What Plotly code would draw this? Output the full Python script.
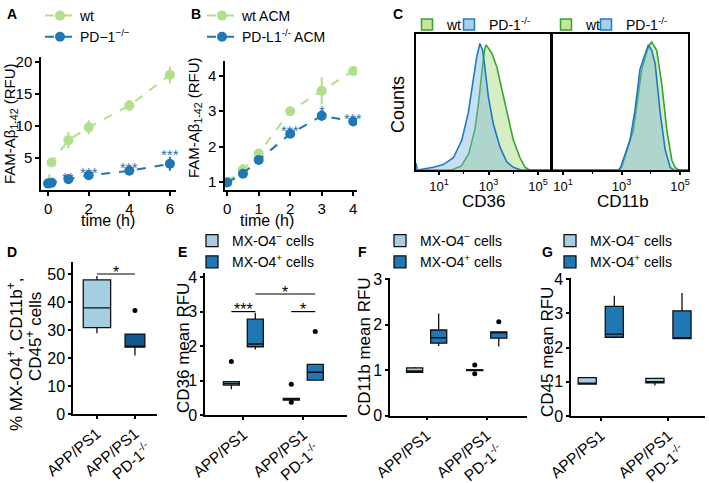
import plotly.graph_objects as go

W, H = 709, 483
FONT = "Liberation Sans, Arial, Helvetica, sans-serif"


def fx(p):
    return p / W


def fy(p):
    return 1 - p / H


GREEN_PT = "#b2df8a"
BLUE_PT = "#1f78b4"
LIGHT_BOX = "#a6cee3"
DARK_BOX = "#1f78b4"
D_DARK = "#14578f"
HIST_GREEN_LINE = "#36a332"
HIST_BLUE_LINE = "#1f78c8"
HIST_GREEN_FILL = "rgba(160,215,110,0.42)"
HIST_BLUE_FILL = "rgba(120,180,220,0.42)"

# ---------------- Panel A ----------------
a_time = [0, 0.17, 1, 2, 4, 6]
a_wt = [1.1, 4.3, 7.8, 9.8, 13.2, 18.0]
a_wt_err = [0.4, 0.5, 1.3, 1.1, 0.9, 1.3]
a_ko = [1.0, 1.15, 1.7, 2.3, 3.0, 4.1]
a_ko_err = [0.15, 0.15, 0.2, 0.2, 0.2, 1.1]
a_sig_time = [1, 2, 4, 6]
a_sig_val = [2.65, 3.4, 4.2, 6.25]
a_sig_txt = ["**", "***", "***", "***"]

# ---------------- Panel B ----------------
b_time = [0, 0.5, 1, 2, 3, 4]
b_wt = [1.0, 1.35, 1.8, 3.0, 3.58, 4.14]
b_wt_err = [0.03, 0.15, 0.05, 0.05, 0.38, 0.12]
b_ko = [0.98, 1.23, 1.62, 2.36, 2.87, 2.71]
b_ko_err = [0.03, 0.05, 0.05, 0.05, 0.15, 0.08]
b_sig_time = [2, 3, 4]
b_sig_val = [2.57, 3.13, 2.9]
b_sig_txt = ["***", "*", "***"]

# ---------------- Panel C (histograms, log10 of intensity) ----------------
c_cd36_wt_log = [0.07, 1.5, 1.9, 2.2, 2.45, 2.6, 2.73, 2.83, 2.9, 3.03, 3.13, 3.33,
                 3.53, 3.73, 4.0, 4.27, 4.47, 4.65, 5.48]
c_cd36_wt_cnt = [0, 0, 0.03, 0.12, 0.30, 0.50, 0.72, 0.88, 0.92, 0.88, 0.86, 0.76,
                 0.60, 0.42, 0.22, 0.09, 0.02, 0, 0]
c_cd36_ko_log = [0.07, 0.1, 0.13, 0.77, 1.17, 1.58, 1.92, 2.18, 2.38, 2.52, 2.65, 2.76,
                 2.86, 2.99, 3.19, 3.46, 3.73, 4.0, 4.3, 5.48]
c_cd36_ko_cnt = [0.05, 0.01, 0, 0.02, 0.04, 0.09, 0.22, 0.42, 0.66, 0.83, 0.93, 0.88,
                 0.74, 0.54, 0.34, 0.17, 0.06, 0.02, 0, 0]
c_cd11b_wt_log = [0.66, 2.9, 3.0, 3.40, 3.69, 3.92, 4.03, 4.20, 4.37, 4.55, 4.72, 4.83,
                  4.95, 5.27]
c_cd11b_wt_cnt = [0, 0, 0.02, 0.29, 0.74, 0.91, 0.94, 0.88, 0.64, 0.29, 0.07, 0.02,
                  0, 0]
c_cd11b_ko_log = [0.66, 2.9, 2.97, 3.29, 3.46, 3.63, 3.80, 3.92, 4.03, 4.15, 4.32, 4.49,
                  4.66, 4.78, 5.27]
c_cd11b_ko_cnt = [0, 0, 0.02, 0.22, 0.44, 0.74, 0.85, 0.92, 0.88, 0.78, 0.42, 0.15,
                  0.02, 0, 0]
c_tickvals = [10, 1000, 100000]
c_ticktext = ["10<sup>1</sup>", "10<sup>3</sup>", "10<sup>5</sup>"]

# ---------------- Panels D-G (box statistics) ----------------
cats = ["APP/PS1", "APP/PS1<br>PD-1<sup>-/-</sup>"]

d_q1 = [30.9, 23.9]
d_med = [38.0, 24.0]
d_q3 = [48.0, 28.6]
d_low = [28.9, 20.9]
d_up = [49.4, 28.6]
d_out = [[None], [37.0]]

e_neg_q1 = [0.87, 0.43]
e_neg_med = [0.92, 0.45]
e_neg_q3 = [0.97, 0.48]
e_neg_low = [0.75, 0.43]
e_neg_up = [0.97, 0.48]
e_neg_out = [[1.55], [0.89, 0.37]]
e_pos_q1 = [1.98, 1.01]
e_pos_med = [2.06, 1.24]
e_pos_q3 = [2.78, 1.47]
e_pos_low = [1.9, 1.01]
e_pos_up = [2.97, 1.47]
e_pos_out = [[None], [2.42]]

f_neg_q1 = [0.95, 0.99]
f_neg_med = [0.98, 1.0]
f_neg_q3 = [1.05, 1.01]
f_neg_low = [0.95, 0.99]
f_neg_up = [1.07, 1.01]
f_neg_out = [[None], [1.11, 0.92]]
f_pos_q1 = [1.59, 1.70]
f_pos_med = [1.71, 1.82]
f_pos_q3 = [1.88, 1.84]
f_pos_low = [1.53, 1.52]
f_pos_up = [2.24, 1.84]
f_pos_out = [[None], [2.06]]

g_neg_q1 = [0.93, 0.97]
g_neg_med = [0.95, 1.0]
g_neg_q3 = [1.12, 1.1]
g_neg_low = [0.93, 0.89]
g_neg_up = [1.12, 1.1]
g_neg_out = [[None], [None]]
g_pos_q1 = [2.30, 2.26]
g_pos_med = [2.39, 2.28]
g_pos_q3 = [3.20, 3.07]
g_pos_low = [2.27, 2.26]
g_pos_up = [3.51, 3.59]
g_pos_out = [[None], [None]]

# significance brackets: (x0, x1, y, label)
d_sig = [(0, 1, 50.1, "*")]
e_sig = [(-0.2, 0.2, 3.0, "***"), (0.8, 1.2, 3.0, "*"), (0.2, 1.2, 3.51, "*")]

fig = go.Figure()

# ---- A
fig.add_trace(go.Scatter(x=a_time, y=a_wt, mode="lines+markers", name="wt",
                         line=dict(color=GREEN_PT, dash="dash", width=2),
                         marker=dict(color=GREEN_PT, size=10),
                         error_y=dict(type="data", array=a_wt_err, color=GREEN_PT, thickness=2, width=0),
                         xaxis="x", yaxis="y", legend="legend"))
fig.add_trace(go.Scatter(x=a_time, y=a_ko, mode="lines+markers", name="PD\u22121<sup>\u2212/\u2212</sup>",
                         line=dict(color=BLUE_PT, dash="dash", width=2),
                         marker=dict(color=BLUE_PT, size=10),
                         error_y=dict(type="data", array=a_ko_err, color=BLUE_PT, thickness=2, width=0),
                         xaxis="x", yaxis="y", legend="legend"))
# ---- B
fig.add_trace(go.Scatter(x=b_time, y=b_wt, mode="lines+markers", name="wt ACM",
                         line=dict(color=GREEN_PT, dash="dash", width=2),
                         marker=dict(color=GREEN_PT, size=10),
                         error_y=dict(type="data", array=b_wt_err, color=GREEN_PT, thickness=2, width=0),
                         xaxis="x2", yaxis="y2", legend="legend2"))
fig.add_trace(go.Scatter(x=b_time, y=b_ko, mode="lines+markers", name="PD-L1<sup>-/-</sup> ACM",
                         line=dict(color=BLUE_PT, dash="dash", width=2),
                         marker=dict(color=BLUE_PT, size=10),
                         error_y=dict(type="data", array=b_ko_err, color=BLUE_PT, thickness=2, width=0),
                         xaxis="x2", yaxis="y2", legend="legend2"))

# ---- C histograms
for xa, ya, wlog, wcnt, klog, kcnt, lgw, lgk in [
    ("x3", "y3", c_cd36_wt_log, c_cd36_wt_cnt, c_cd36_ko_log, c_cd36_ko_cnt, "legend3", "legend8"),
    ("x4", "y4", c_cd11b_wt_log, c_cd11b_wt_cnt, c_cd11b_ko_log, c_cd11b_ko_cnt, "legend4", "legend9"),
]:
    fig.add_trace(go.Scatter(x=[10 ** v for v in wlog], y=wcnt, mode="lines", fill="tozeroy",
                             fillcolor=HIST_GREEN_FILL, line=dict(color=HIST_GREEN_LINE, width=1.6),
                             showlegend=False, xaxis=xa, yaxis=ya))
    fig.add_trace(go.Scatter(x=[10 ** v for v in klog], y=kcnt, mode="lines", fill="tozeroy",
                             fillcolor=HIST_BLUE_FILL, line=dict(color=HIST_BLUE_LINE, width=1.6),
                             showlegend=False, xaxis=xa, yaxis=ya))
    fig.add_trace(go.Scatter(x=[None], y=[None], mode="markers", name="wt",
                             marker=dict(symbol="square", size=11, color="#c4e59c",
                                         line=dict(color=HIST_GREEN_LINE, width=1.5)),
                             xaxis=xa, yaxis=ya, legend=lgw))
    fig.add_trace(go.Scatter(x=[None], y=[None], mode="markers", name="PD-1<sup>-/-</sup>",
                             marker=dict(symbol="square", size=11, color="#a9d0ea",
                                         line=dict(color=HIST_BLUE_LINE, width=1.5)),
                             xaxis=xa, yaxis=ya, legend=lgk))

BOX_LINE = dict(color="#111111", width=1.3)
PT = dict(color="black", size=5)


def add_box(name, xcats, q1, med, q3, lo, up, pts, fill, xa, ya, lg, og, showlegend, width=None):
    kw = {}
    if width is not None:
        kw["width"] = width
    else:
        kw["offsetgroup"] = og
        kw["alignmentgroup"] = xa
    fig.add_trace(go.Box(x=xcats, q1=q1, median=med, q3=q3, lowerfence=lo, upperfence=up,
                         y=pts, boxpoints="all", jitter=0, pointpos=0,
                         fillcolor=fill, line=BOX_LINE, marker=PT, whiskerwidth=0,
                         name=name, showlegend=showlegend, legend=lg,
                         xaxis=xa, yaxis=ya, **kw))


NEG = "MX-O4<sup>\u2212</sup> cells"
POS = "MX-O4<sup>+</sup> cells"

# ---- D (one box per category)
add_box("APP/PS1", [cats[0]], [d_q1[0]], [d_med[0]], [d_q3[0]], [d_low[0]], [d_up[0]], [d_out[0]],
        LIGHT_BOX, "x5", "y5", "legend", "d", False, width=0.72)
add_box("APP/PS1 PD-1", [cats[1]], [d_q1[1]], [d_med[1]], [d_q3[1]], [d_low[1]], [d_up[1]], [d_out[1]],
        D_DARK, "x5", "y5", "legend", "d", False, width=0.52)

# ---- E
add_box(NEG, cats, e_neg_q1, e_neg_med, e_neg_q3, e_neg_low, e_neg_up, e_neg_out, LIGHT_BOX, "x6", "y6", "legend5", "neg", True)
add_box(POS, cats, e_pos_q1, e_pos_med, e_pos_q3, e_pos_low, e_pos_up, e_pos_out, DARK_BOX, "x6", "y6", "legend5", "pos", True)
# ---- F
add_box(NEG, cats, f_neg_q1, f_neg_med, f_neg_q3, f_neg_low, f_neg_up, f_neg_out, LIGHT_BOX, "x7", "y7", "legend6", "neg", True)
add_box(POS, cats, f_pos_q1, f_pos_med, f_pos_q3, f_pos_low, f_pos_up, f_pos_out, DARK_BOX, "x7", "y7", "legend6", "pos", True)
# ---- G
add_box(NEG, cats, g_neg_q1, g_neg_med, g_neg_q3, g_neg_low, g_neg_up, g_neg_out, LIGHT_BOX, "x8", "y8", "legend7", "neg", True)
add_box(POS, cats, g_pos_q1, g_pos_med, g_pos_q3, g_pos_low, g_pos_up, g_pos_out, DARK_BOX, "x8", "y8", "legend7", "pos", True)

# ---------------- axes ----------------
base = dict(showline=True, linecolor="black", linewidth=1.5, ticks="outside", ticklen=4,
            tickwidth=1.5, tickcolor="black", showgrid=False, zeroline=False,
            tickfont=dict(size=15, color="black", family=FONT))
big = dict(base, ticklen=3, tickfont=dict(size=16, color="black", family=FONT))
catx = dict(big, tickfont=dict(size=15.5, color="black", family=FONT))
cminor = dict(ticks="outside", ticklen=2, tickwidth=1, tickcolor="black", dtick=1, showgrid=False)

layout_axes = dict(
    xaxis=dict(base, domain=[fx(41), fx(176)], anchor="y", range=[-0.35, 6.3], tickvals=[0, 2, 4, 6]),
    yaxis=dict(base, domain=[fy(190), fy(57)], anchor="x", range=[0, 20.8], tickvals=[5, 10, 15, 20]),
    xaxis2=dict(base, domain=[fx(225), fx(357)], anchor="y2", range=[-0.07, 4.12], tickvals=[0, 1, 2, 3, 4]),
    yaxis2=dict(base, domain=[fy(190), fy(61)], anchor="x2", range=[0.77, 4.42], tickvals=[1, 2, 3, 4]),
    xaxis3=dict(base, domain=[fx(416), fx(550)], anchor="y3", type="log", range=[0.07, 5.48],
                tickvals=c_tickvals, ticktext=c_ticktext, mirror=True, ticklen=3, linewidth=1.8,
                minor=cminor, tickfont=dict(size=13, color="black", family=FONT)),
    yaxis3=dict(base, domain=[fy(170), fy(34)], anchor="x3", range=[0, 1.0], mirror=True, linewidth=1.8,
                ticks="", showticklabels=False),
    xaxis4=dict(base, domain=[fx(553), fx(688)], anchor="y4", type="log", range=[0.66, 5.27],
                tickvals=c_tickvals, ticktext=c_ticktext, mirror=True, ticklen=3, linewidth=1.8,
                minor=cminor, tickfont=dict(size=13, color="black", family=FONT)),
    yaxis4=dict(base, domain=[fy(170), fy(34)], anchor="x4", range=[0, 1.0], mirror=True, linewidth=1.8,
                ticks="", showticklabels=False),
    xaxis5=dict(catx, domain=[fx(73), fx(157)], anchor="y5", type="category", range=[-0.63, 1.58], tickangle=-40),
    yaxis5=dict(big, domain=[fy(414), fy(262)], anchor="x5", range=[0, 54.4], tickvals=[0, 10, 20, 30, 40, 50]),
    xaxis6=dict(catx, domain=[fx(205), fx(347)], anchor="y6", type="category", range=[-0.64, 1.73], tickangle=-40),
    yaxis6=dict(big, domain=[fy(415), fy(273)], anchor="x6", range=[0, 4.12], tickvals=[0, 1, 2, 3, 4]),
    xaxis7=dict(catx, domain=[fx(390), fx(527)], anchor="y7", type="category", range=[-0.61, 1.67], tickangle=-40),
    yaxis7=dict(big, domain=[fy(415.7), fy(278)], anchor="x7", range=[0, 3.02], tickvals=[0, 1, 2, 3]),
    xaxis8=dict(catx, domain=[fx(571), fx(705)], anchor="y8", type="category", range=[-0.44, 1.54], tickangle=-40),
    yaxis8=dict(big, domain=[fy(416), fy(278)], anchor="x8", range=[0, 4.03], tickvals=[0, 1, 2, 3, 4]),
)

annotations = []


def ann(text, x, y, size=15, angle=0, bold=False, color="black", **kw):
    annotations.append(dict(text=("<b>%s</b>" % text) if bold else text, x=fx(x), y=fy(y),
                            xref="paper", yref="paper", showarrow=False, textangle=angle,
                            xanchor="center", yanchor="middle",
                            font=dict(size=size, color=color, family=FONT), **kw))


# panel letters
ann("A", 12, 14, 14, bold=True)
ann("B", 196, 14, 14, bold=True)
ann("C", 398, 14, 14, bold=True)
ann("D", 12, 252, 14, bold=True)
ann("E", 182, 252, 14, bold=True)
ann("F", 362, 252, 14, bold=True)
ann("G", 547, 252, 14, bold=True)

# axis titles
ann("FAM-A\u03b2<sub>1-42</sub> (RFU)", 11, 124, 15, angle=-90)
ann("time (h)", 108, 221, 16)
ann("FAM-A\u03b2<sub>1-42</sub> (RFU)", 195, 118, 15, angle=-90)
ann("time (h)", 267, 221, 16)
ann("Counts", 398, 105, 18, angle=-90)
ann("CD36", 483, 201, 17)
ann("CD11b", 623, 201, 17)
ann("% MX-O4<sup>+</sup>, CD11b<sup>+</sup>,", 15, 355, 17, angle=-90)
ann("CD45<sup>+</sup> cells", 34, 337, 17, angle=-90)
ann("CD36 mean RFU", 183, 348, 17, angle=-90)
ann("CD11b mean RFU", 364, 347, 17, angle=-90)
ann("CD45 mean RFU", 547, 352, 17, angle=-90)

# significance stars on time courses
for t, v, s in zip(a_sig_time, a_sig_val, a_sig_txt):
    annotations.append(dict(text=s, x=t, y=v, xref="x", yref="y", showarrow=False, yshift=-4,
                            font=dict(size=15, color=BLUE_PT, family=FONT)))
for t, v, s in zip(b_sig_time, b_sig_val, b_sig_txt):
    annotations.append(dict(text=s, x=t, y=v, xref="x2", yref="y2", showarrow=False, yshift=-4,
                            font=dict(size=15, color=BLUE_PT, family=FONT)))

shapes = []
for xa, ya, sigs in [("x5", "y5", d_sig), ("x6", "y6", e_sig)]:
    for x0, x1, yv, s in sigs:
        shapes.append(dict(type="line", xref=xa, yref=ya, x0=x0, x1=x1, y0=yv, y1=yv,
                           line=dict(color="black", width=1.2)))
        annotations.append(dict(text=s, x=(x0 + x1) / 2, y=yv, xref=xa, yref=ya, showarrow=False,
                                yshift=2, font=dict(size=16, color="black", family=FONT)))

F14 = dict(size=14, color="black", family=FONT)
leg = dict(xanchor="left", yanchor="top", bgcolor="rgba(0,0,0,0)", tracegroupgap=0,
           font=F14, borderwidth=0, itemwidth=30)

fig.update_layout(
    width=W, height=H, margin=dict(l=0, r=0, t=0, b=0, autoexpand=False),
    paper_bgcolor="white", plot_bgcolor="white",
    font=dict(family=FONT, color="black"),
    boxmode="group", boxgap=0.2, boxgroupgap=0.33,
    legend=dict(leg, x=fx(40), y=1),
    legend2=dict(leg, x=fx(202), y=1),
    legend3=dict(leg, x=fx(407), y=fy(9)),
    legend8=dict(leg, x=fx(449), y=fy(9)),
    legend4=dict(leg, x=fx(546), y=fy(9)),
    legend9=dict(leg, x=fx(586), y=fy(9)),
    legend5=dict(leg, x=fx(192), y=fy(225)),
    legend6=dict(leg, x=fx(380), y=fy(225)),
    legend7=dict(leg, x=fx(550), y=fy(225)),
    annotations=annotations, shapes=shapes,
    **layout_axes,
)

fig.write_html("out.html", config={"displayModeBar": False},
               post_script="document.body.style.margin='0px';document.body.style.padding='0px';")
